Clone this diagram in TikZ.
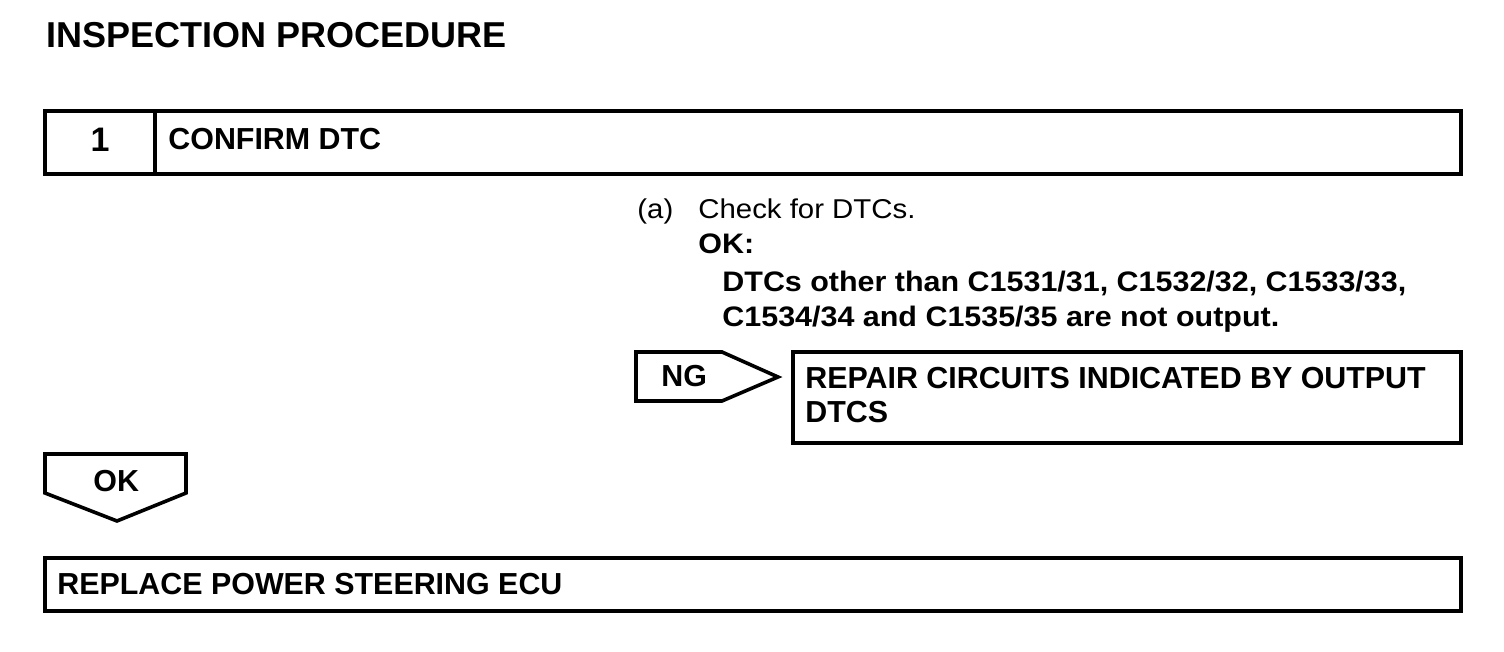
\documentclass[tikz,border=0pt]{standalone}
\usepackage{fontspec}
\setmainfont{Liberation Sans}
\newfontfamily\widefont[FakeStretch=1.08]{Liberation Sans}

\begin{document}
\begin{tikzpicture}[x=0.5pt,y=-0.5pt,
    boxline/.style={line width=2pt},
    tagline/.style={line width=1.8pt},
    txt/.style={anchor=base west,inner sep=0pt},
    headtxt/.style={txt,font=\bfseries\fontsize{15.2}{17}\selectfont},
    bodytxt/.style={txt,font=\widefont\fontsize{13.6}{16}\selectfont},
    boldtxt/.style={txt,font=\widefont\bfseries\fontsize{14.1}{16}\selectfont}]
    \useasboundingbox (0,0) rectangle (1504,652);
    \node[txt,font=\bfseries\fontsize{18}{20}\selectfont] (title) at (46,48) {INSPECTION PROCEDURE};
    % step 1 header
    \draw [boxline] (45,111) rectangle (1461,174);
    \draw [line width=1.6pt] (155,111)--(155,174);
    \node[txt,anchor=base,font=\bfseries\fontsize{17}{19}\selectfont] (num) at (100,152) {1};
    \node[headtxt] (step) at (168,150) {CONFIRM DTC};
    % check
    \node[bodytxt] (a) at (637,219) {(a)};
    \node[bodytxt] (check) at (698,219) {Check for DTCs.};
    \node[boldtxt] (okhead) at (698,254) {OK:};
    \node[boldtxt] (ok1) at (722,292) {DTCs other than C1531/31, C1532/32, C1533/33,};
    \node[boldtxt] (ok2) at (722,326) {C1534/34 and C1535/35 are not output.};
    % NG branch
    \draw [tagline] (636,352)--(722,352)--(778,377)--(722,401)--(636,401)--cycle;
    \node[headtxt] (ng) at (661,386) {NG};
    \draw [boxline] (793,352) rectangle (1461,443);
    \node[headtxt] (repair1) at (805,388) {REPAIR CIRCUITS INDICATED BY OUTPUT};
    \node[headtxt] (repair2) at (805,422) {DTCS};
    % OK branch
    \draw [tagline] (45,454)--(186,454)--(186,493)--(117,521)--(45,493)--cycle;
    \node[headtxt] (ok) at (93,491) {OK};
    \draw [boxline] (45,558) rectangle (1461,611);
    \node[headtxt] (replace) at (57,594) {REPLACE POWER STEERING ECU};
\end{tikzpicture}
\end{document}
